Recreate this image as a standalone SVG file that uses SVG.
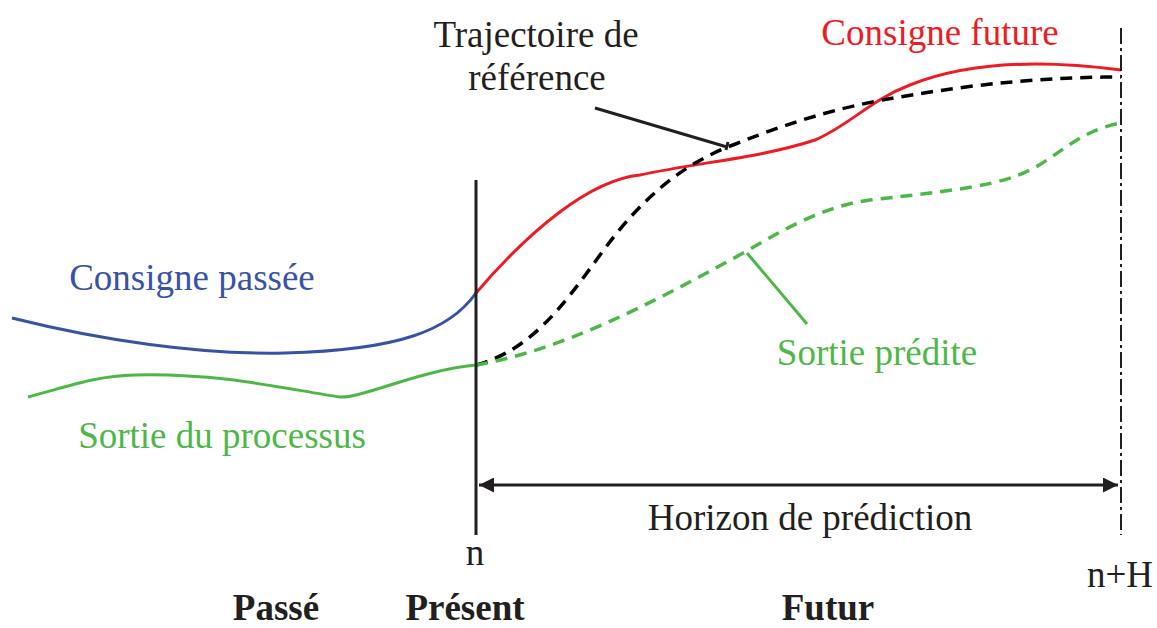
<svg xmlns="http://www.w3.org/2000/svg" width="1157" height="628" viewBox="0 0 1157 628">
<defs>
<style>
text{font-family:"Liberation Serif","Times New Roman",serif;font-size:37px;fill:#231f20}
.b{font-weight:bold}
.red{fill:#ed1c24}.blue{fill:#3953a4}.green{fill:#4db848}
.c{fill:none;stroke-width:3}
.d{stroke-width:3.5;stroke-dasharray:12,8}
</style>
<marker id="ah" viewBox="0 0 10 10" refX="10" refY="5" markerWidth="5" markerHeight="5" orient="auto-start-reverse" markerUnits="strokeWidth">
<path d="M0,0 L10,5 L0,10 Z" fill="#231f20"/>
</marker>
</defs>
<rect width="1157" height="628" fill="#fff"/>
<g id="connectors">
<path id="past-setpoint" class="c" stroke="#3953a4" d="M12,318 C100,340 200,355 285,353 C400,350 450,330 476,293"/>
<path id="process-output" class="c" stroke="#4db848" d="M28,397 C70,386 95,376 135,375 C225,373 290,390 340,397 C360,399 420,370 476,365"/>
<path id="future-setpoint" class="c" stroke="#ed1c24" d="M476,293 C530,230 590,180 640,175 C700,162 760,158 815,140 C850,125 870,100 910,85 C960,65 1030,58 1121,70"/>
<path id="reference" class="c d" stroke="#000" d="M476,365 C530,350 560,310 600,255 C640,200 680,165 733,145 C800,118 850,105 900,97 C980,83 1050,77 1121,77"/>
<path id="predicted" class="c d" stroke="#4db848" d="M476,365 C560,350 640,310 745,252 C790,225 830,205 870,200 C960,190 1000,185 1030,170 C1060,155 1080,130 1121,123"/>
<line x1="476" y1="180" x2="476" y2="535" stroke="#231f20" stroke-width="3"/>
<line x1="1121" y1="28" x2="1121" y2="535" stroke="#231f20" stroke-width="2" stroke-dasharray="16,4,3,4"/>
<line x1="479" y1="485" x2="1118" y2="485" stroke="#231f20" stroke-width="3" marker-start="url(#ah)" marker-end="url(#ah)"/>
<polyline points="595,108 727,147" fill="none" stroke="#231f20" stroke-width="3"/>
<line x1="728" y1="142" x2="726" y2="150" stroke="#231f20" stroke-width="3"/>
<line x1="747" y1="253" x2="807" y2="324" stroke="#4db848" stroke-width="3"/>
</g>
<g id="label-reference"><text x="536" y="47" text-anchor="middle">Trajectoire de</text><text x="537" y="90" text-anchor="middle">référence</text></g>
<g id="label-future"><text class="red" x="940" y="45" text-anchor="middle">Consigne future</text></g>
<g id="label-past"><text class="blue" x="192" y="290" text-anchor="middle">Consigne passée</text></g>
<g id="label-output"><text class="green" x="222" y="448" text-anchor="middle">Sortie du processus</text></g>
<g id="label-predicted"><text class="green" x="877" y="365" text-anchor="middle">Sortie prédite</text></g>
<g id="label-horizon"><text x="810" y="530" text-anchor="middle">Horizon de prédiction</text></g>
<g id="label-n"><text x="475" y="565" text-anchor="middle">n</text></g>
<g id="label-nH"><text x="1120" y="587" text-anchor="middle">n+H</text></g>
<g id="label-passe"><text class="b" x="276" y="620" text-anchor="middle">Passé</text></g>
<g id="label-present"><text class="b" x="465" y="620" text-anchor="middle">Présent</text></g>
<g id="label-futur"><text class="b" x="828" y="620" text-anchor="middle">Futur</text></g>
</svg>
